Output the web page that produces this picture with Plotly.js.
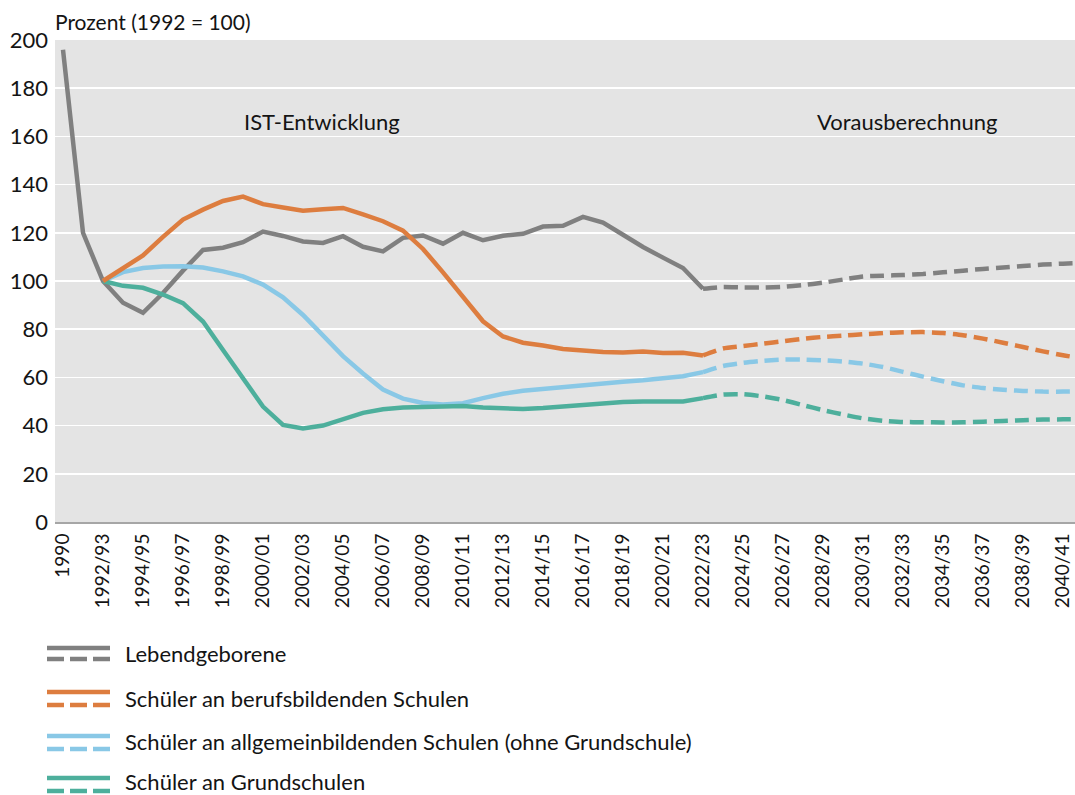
<!DOCTYPE html>
<html>
<head>
<meta charset="utf-8">
<script src="https://cdn.plot.ly/plotly-3.0.1.min.js"></script>
<style>
  html, body { margin: 0; padding: 0; background: #ffffff; overflow: hidden; }
  #chart { width: 1075px; height: 795px; }
</style>
</head>
<body>
<div id="chart"></div>
<script>
// ---------- Data ----------
const categories = [
  "1990", "1991", "1992/93", "1993/94", "1994/95", "1995/96", "1996/97", "1997/98",
  "1998/99", "1999/00", "2000/01", "2001/02", "2002/03", "2003/04", "2004/05", "2005/06",
  "2006/07", "2007/08", "2008/09", "2009/10", "2010/11", "2011/12", "2012/13", "2013/14",
  "2014/15", "2015/16", "2016/17", "2017/18", "2018/19", "2019/20", "2020/21", "2021/22",
  "2022/23", "2023/24", "2024/25", "2025/26", "2026/27", "2027/28", "2028/29", "2029/30",
  "2030/31", "2031/32", "2032/33", "2033/34", "2034/35", "2035/36", "2036/37", "2037/38",
  "2038/39", "2039/40", "2040/41", "2041/42"
];

// Actual development (IST-Entwicklung), 1990 .. 2022/23
const lebendgeboreneIst = [196, 120, 100, 91, 86.8, 95, 104.3, 112.9, 113.8, 116.1, 120.5, 118.7,
  116.4, 115.8, 118.6, 114.2, 112.3, 117.9, 118.9, 115.5, 120, 116.9, 118.8, 119.6,
  122.6, 122.9, 126.6, 124.2, 119.2, 114.1, 109.7, 105.4, 96.8];
const berufsbildendIst = [null, null, 100, 105.4, 110.6, 118.3, 125.5, 129.6, 133.2, 135, 131.9, 130.5,
  129.2, 129.8, 130.3, 127.6, 124.8, 120.9, 113.3, 103.6, 93.3, 83.3, 77, 74.4,
  73.2, 71.8, 71.2, 70.5, 70.3, 70.7, 70.1, 70.2, 69.1];
const allgemeinbildendIst = [null, null, 100, 103.7, 105.4, 106, 106.1, 105.6, 104, 101.9, 98.5, 93.2,
  85.9, 77.5, 68.8, 61.6, 55, 51.2, 49.4, 48.8, 49.3, 51.4, 53.2, 54.5,
  55.3, 55.9, 56.7, 57.6, 58.2, 58.8, 59.5, 60.5, 62.2];
const grundschulenIst = [null, null, 100, 98, 97.2, 94.4, 90.8, 83.2, 71.4, 59.4, 47.9, 40.3,
  38.8, 40, 42.8, 45.3, 46.8, 47.5, 47.7, 48, 48.1, 47.5, 47, 46.9,
  47.3, 47.9, 48.7, 49.4, 49.8, 50, 50.1, 50, 51.4];

// Projection (Vorausberechnung), 2022/23 .. 2041/42
const lebendgeborenePrognose = [96.8, 97.5, 97.3, 97.3, 97.6, 98.3, 99.3, 100.6, 101.9, 102.2,
  102.5, 102.9, 103.6, 104.3, 105, 105.6, 106.2, 106.8, 107.2, 107.5];
const berufsbildendPrognose = [69.1, 72, 73, 74, 75, 76, 76.8, 77.3, 77.9, 78.4,
  78.7, 78.8, 78.4, 77.5, 76.1, 74.4, 72.6, 70.8, 69.2, 67.8];
const allgemeinbildendPrognose = [62.2, 64.7, 66, 66.9, 67.4, 67.4, 67.1, 66.6, 65.7, 64.3,
  62.3, 60.3, 58.4, 56.7, 55.6, 54.9, 54.4, 54.1, 54.1, 54.2];
const grundschulenPrognose = [51.4, 52.9, 53, 52.1, 50.6, 48.5, 46.4, 44.6, 43, 42,
  41.5, 41.4, 41.3, 41.4, 41.6, 41.9, 42.2, 42.5, 42.6, 42.7];

const seriesNames = [
  "Lebendgeborene",
  "Schüler an berufsbildenden Schulen",
  "Schüler an allgemeinbildenden Schulen (ohne Grundschule)",
  "Schüler an Grundschulen"
];
const labelIst = "IST-Entwicklung";
const labelPrognose = "Vorausberechnung";
const yTitle = "Prozent (1992 = 100)";

// ---------- Styling ----------
const colors = ["#808080", "#DD7D3F", "#89C8E6", "#4DAF9C"];
const FONT = "Lato, 'Open Sans', sans-serif";
const TXT = "#141414";
const LW = 4.5;
const W = 1075, H = 795;
const M = {l: 55, r: 0, t: 40, b: 273};
const plotW = W - M.l - M.r, plotH = H - M.t - M.b;
const px2x = p => (p - M.l) / plotW;
const px2y = p => (H - M.b - p) / plotH;

const istSeries = [lebendgeboreneIst, berufsbildendIst, allgemeinbildendIst, grundschulenIst];
const progSeries = [lebendgeborenePrognose, berufsbildendPrognose, allgemeinbildendPrognose, grundschulenPrognose];
const nIst = lebendgeboreneIst.length;

const traces = [];
// draw order: grey, blue, green, orange (orange on top like reference)
[0, 2, 3, 1].forEach(k => {
  traces.push({
    type: "scatter", mode: "lines", name: seriesNames[k], showlegend: false,
    x: categories.slice(0, nIst), y: istSeries[k],
    line: {color: colors[k], width: LW}, connectgaps: false, hoverinfo: "skip"
  });
  traces.push({
    type: "scatter", mode: "lines", name: seriesNames[k] + " (Vorausberechnung)", showlegend: false,
    x: categories.slice(nIst - 1, nIst - 1 + progSeries[k].length), y: progSeries[k],
    line: {color: colors[k], width: LW, dash: "14px,7px", shape: "spline", smoothing: 0.6},
    hoverinfo: "skip"
  });
});

// ---------- Custom legend (solid + dashed swatch per series) ----------
const legendRows = [
  {solid: 648, dashed: 659, text: 653.5},
  {solid: 692, dashed: 705, text: 698.5},
  {solid: 736, dashed: 749, text: 741.5},
  {solid: 778, dashed: 791, text: 782}
];
const shapes = [];
const annotations = [];
legendRows.forEach((r, k) => {
  shapes.push({type: "line", xref: "paper", yref: "paper",
    x0: px2x(47), x1: px2x(110), y0: px2y(r.solid), y1: px2y(r.solid),
    line: {color: colors[k], width: LW}});
  shapes.push({type: "line", xref: "paper", yref: "paper",
    x0: px2x(47), x1: px2x(110), y0: px2y(r.dashed), y1: px2y(r.dashed),
    line: {color: colors[k], width: LW, dash: "17px,6px"}});
  annotations.push({xref: "paper", yref: "paper", x: px2x(124), y: px2y(r.text),
    xanchor: "left", yanchor: "middle", showarrow: false, text: seriesNames[k],
    borderpad: 0,
    font: {family: FONT, size: 22, color: TXT}});
});
annotations.push({xref: "paper", yref: "paper", x: px2x(322), y: px2y(122),
  xanchor: "center", yanchor: "middle", showarrow: false, text: labelIst,
  font: {family: FONT, size: 22, color: TXT}});
annotations.push({xref: "paper", yref: "paper", x: px2x(907), y: px2y(122),
  xanchor: "center", yanchor: "middle", showarrow: false, text: labelPrognose,
  font: {family: FONT, size: 22, color: TXT}});
annotations.push({xref: "paper", yref: "paper", x: px2x(53), y: px2y(22),
  xanchor: "left", yanchor: "middle", showarrow: false, text: yTitle,
  font: {family: FONT, size: 21, color: TXT}});

const layout = {
  width: W, height: H,
  margin: M,
  paper_bgcolor: "#ffffff",
  plot_bgcolor: "#e4e4e4",
  font: {family: FONT, size: 18, color: TXT},
  showlegend: false,
  xaxis: {
    type: "category",
    categoryorder: "array", categoryarray: categories,
    range: [-0.4, 50.6],
    dtick: 2, tick0: 0,
    tickangle: -90,
    tickfont: {family: FONT, size: 19, color: TXT},
    showgrid: false, zeroline: false,
    showline: true, linecolor: "#a6a6a6", linewidth: 2,
    ticks: "", ticklabelstandoff: 2,
    fixedrange: true
  },
  yaxis: {
    range: [0, 200], dtick: 20, tick0: 0,
    showgrid: true, gridcolor: "#ffffff", gridwidth: 1.5,
    zeroline: false, showline: false, ticks: "",
    tickfont: {family: FONT, size: 22, color: TXT},
    ticklabelstandoff: 6,
    fixedrange: true
  },
  shapes: shapes,
  annotations: annotations
};

Plotly.newPlot("chart", traces, layout, {displayModeBar: false, staticPlot: true});
</script>
</body>
</html>
